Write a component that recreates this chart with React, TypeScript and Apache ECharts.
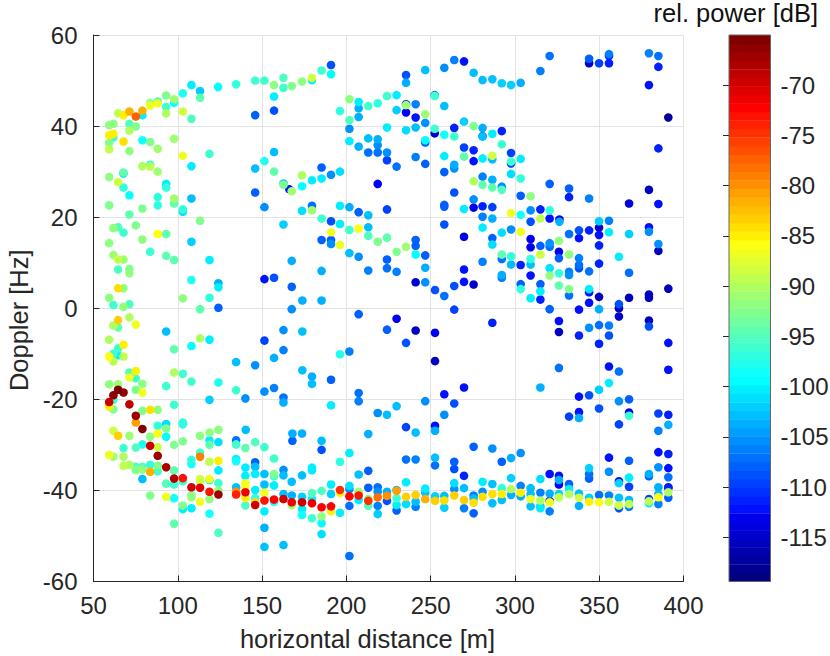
import React, { useEffect, useRef } from "react";
import * as echarts from "echarts";

type P = [number, number, number];

const xTicksMin = 50;
const xTicksMax = 400;
const yTicksMin = -60;
const yTicksMax = 60;
const powerMin = -119.4;
const powerMax = -65;
const colorbarTicks = [-115, -110, -105, -100, -95, -90, -85, -80, -75, -70];

const upperLeft: P[] = [
[59.3,40.2,-92],[61.8,40.5,-92],[64.6,42.8,-89],[67.8,42.4,-85],[71.3,43.2,-81.5],[75.1,42.1,-77.5],[79,42.4,-100],[79,43.4,-81.5],[83.6,45.1,-92],[83.6,44.5,-87],[88.1,45.4,-96],[88.1,45,-87],[93.1,46.7,-93],[93.1,44.2,-96],[93.1,42.8,-90],[97.8,45.9,-91],[97.8,45.1,-99],[103,47.2,-98],[103,43.2,-88],[108.1,49,-100],[108.1,41.6,-95],[113.2,47.7,-102],[113.2,46.2,-94],[123.9,48.6,-99.5],[134.6,49.2,-97],[145.9,50,-96],[145.9,42.4,-108],[151.4,50,-96],[157.1,49,-92],[157.1,46.5,-100],[157.1,43.4,-109],[162.7,50.6,-95],[162.7,48.4,-96],[167.6,48.8,-93],
[71.3,40.5,-95],[75.1,39.9,-93],[71.3,39,-90],[59.3,38,-85],[61.8,38.3,-85],[61.8,37.5,-96],[59.3,36.3,-93],[59.3,34.9,-89.5],[67.8,36.6,-84],[71.3,34.5,-92],[79,36.9,-99],[83.6,36.5,-93],[88.1,35,-91],[97.8,37.2,-91],[103,33.5,-87],[118.8,33.9,-96],[108.1,31.2,-100],[79,31.2,-90],[83.6,31.5,-97],[83.6,31.1,-89],[88.1,30,-91],[157.1,34.3,-103],[151.4,32.3,-98],[145.9,30.7,-103],[157.1,30,-94],[162.7,27.4,-102],[162.7,27.1,-93],[167.6,25.7,-91],[166.2,26.1,-112],
[59.3,28.8,-92],[67.8,29.6,-102],[67.8,29.8,-94],[64.6,27.7,-88],[67.8,26.5,-97],[71.3,24.8,-99.5],[93.1,27.3,-100],[93.1,26.5,-97],[88.1,24.4,-97],[97.8,24.1,-91],[97.8,23,-94],[108.1,24.1,-103],[145.9,25.4,-108],[59.3,22.6,-93],[79,21.9,-93],[88.1,22.6,-97],[103,21.2,-101.5],[103,21.7,-97],[71.3,20.6,-94],[113.2,19.2,-93],[151.4,22.2,-105],
];

const middleLeft: P[] = [
[61.8,17.6,-92],[64.6,17.8,-95],[67.8,16.6,-96],[75.1,18.2,-93],[88.1,16.3,-86],[93.1,16.3,-94],[108.1,14.6,-102],[162.7,18.4,-102],[79,15.1,-92],[59.3,14.3,-92],[83.6,12.4,-96],[61.8,11.7,-91],[64.6,10.7,-89],[67.8,10.7,-91],[93.1,11.5,-94],[97.8,10.6,-94],[118.8,10.6,-100],[167.6,10.4,-104],[64.6,8.5,-95],[71.3,8.6,-93],[71.3,7.7,-92],[108.1,6.2,-98],[124.1,5.5,-104],[124.1,4.6,-100],[151.4,6.4,-112],[157.1,6.7,-109],[167.6,4.7,-108],[64.6,4.4,-84.5],[67.8,4.4,-92],[59.3,2.3,-92],[61.8,0.7,-96],[67.8,0.3,-92],[71.3,0.9,-95],[103,2.2,-92],[118.8,2.3,-97],[113.2,-0.2,-94],[124.1,0.1,-108],[167.6,-0.2,-105],
[71.3,-2,-90],[64.6,-2.6,-83.5],[61.8,-3.8,-90],[64.6,-4.2,-94],[75.1,-3.6,-87],[93.1,-5.1,-103],[162.7,-4.8,-105],[59.3,-6.9,-90],[113.2,-6.6,-90],[118.8,-6.9,-100.5],[151.4,-7.1,-110],[67.8,-8,-85],[64.6,-8.8,-96],[108.1,-8.3,-99.5],[97.8,-9,-94],[162.7,-9.2,-106],[61.8,-10,-96],[64.6,-10.3,-100],[59.3,-10.6,-85.5],[67.8,-10.6,-89],[61.8,-11.7,-89],[157.1,-10.9,-104],[134.6,-11.8,-102.5],[145.9,-12.5,-105],[75.1,-13.8,-85],[71.3,-14.1,-95],[71.3,-15.2,-86.5],[75.1,-15.4,-96],[97.8,-14.1,-90],[103,-14.4,-96],[108.1,-16.1,-96],[124.1,-16.3,-98],[59.3,-16.7,-92],[64.6,-16.7,-91],[79,-16.6,-92],[93.1,-17.1,-96],[75.1,-17.9,-93],[79,-18.5,-86.5],[134.6,-18,-96],[151.4,-18.3,-105],[157.1,-17.5,-106],[64.6,-17.9,-65.5],[67.8,-18.5,-66],[61.8,-19.1,-66.5],[59.3,-20.6,-69.5],[71.3,-21.1,-68.5],[118.8,-20.1,-102],[140.1,-19.8,-105],[162.7,-19.6,-107],[162.7,-20.7,-104],[97.8,-21.2,-96],[61.8,-20.1,-96],
];

const lowerLeft: P[] = [
[59.3,-21.6,-85],[61.8,-22.2,-93],[79,-22.5,-93],[83.6,-22.3,-84.5],[88.1,-22.3,-92],[75.1,-23.6,-67.5],[75.1,-25.1,-81],[79,-26.5,-65.5],[88.1,-25.8,-97],[93.1,-25.4,-101],[93.1,-26.4,-93],[103,-25.1,-97],[103,-25.5,-97],[61.8,-26.9,-88],[64.6,-28,-83],[71.3,-28,-91],[83.6,-28.2,-92],[88.1,-27.5,-86],[93.1,-28.2,-99.5],[113.2,-28,-92],[118.8,-27.3,-92],[124.1,-26.7,-92],[140.3,-26.7,-103],[103,-29.2,-93],[97.8,-30,-93],[118.8,-29,-100],[118.8,-30,-94],[124.1,-29.4,-101],[134.6,-29,-107],[134.6,-29.9,-96],[145.9,-29.4,-95],[140.1,-30.7,-94],[151.4,-30.5,-96],[67.8,-30.7,-96],[75.1,-30.6,-95.5],[79,-29.9,-98],[83.6,-30.2,-70],[88.1,-30.5,-88],[113.2,-31.7,-96],[113.2,-32.6,-79],[88.1,-32.4,-67],[59.3,-32.2,-87],[61.8,-32.6,-91],[67.8,-32.6,-90],[108.1,-33.3,-97],[108.1,-34.2,-99],[118.8,-33.7,-89],[124.1,-33.5,-85],[134.6,-33.1,-100],[134.6,-33.6,-99],[157.1,-33,-96],[145.9,-33.8,-108],[145.9,-34.8,-103],[67.8,-34.6,-89],[71.3,-34.4,-90],[75.1,-34.8,-95],[75.1,-35.5,-93],[79,-34.8,-95],[79,-35.4,-92],[83.6,-34.4,-97],[83.6,-35.9,-82],[88.1,-34.6,-93],[88.1,-35.8,-96],[93.1,-34.9,-68],[97.8,-35.6,-94],[140.1,-35,-100],[124.1,-35.6,-100],[79,-37.5,-103],[93.1,-38.5,-95],[97.8,-37.4,-68],[97.8,-38.7,-96],[103,-37.3,-73],[103,-38,-96],[108.1,-39.3,-70],[108.1,-41,-92],[108.1,-41.5,-92],[113.2,-39.4,-70.5],[113.2,-37.5,-88],[113.2,-38,-88],[113.2,-42.5,-87],[118.8,-37.5,-87],[118.8,-37.7,-100],[118.8,-40.3,-73],[118.8,-41.9,-92],[124.1,-38.4,-96],[124.1,-40,-92],[124.1,-40.9,-67],[134.6,-39.3,-103],[134.6,-40.3,-80],[134.6,-40.9,-74],[140.1,-36.8,-100],[140.1,-38.4,-87],[140.1,-39.3,-86],[140.1,-40.4,-71],[140.1,-41.6,-85],[140.1,-43.3,-95],[145.9,-36.4,-100],[145.9,-39.9,-100],[145.9,-41.7,-97],[145.9,-42.6,-84],[145.9,-43.2,-69.5],[151.4,-36.4,-103],[157.1,-36.9,-96],[157.1,-36.4,-93],[151.4,-38.7,-102.5],[157.1,-38.9,-100],[162.7,-35.5,-105],[162.7,-36.7,-103],[167.6,-38.1,-103],[151.4,-40.5,-87],[162.7,-40.8,-103],[167.6,-41.1,-104],[151.4,-42.2,-73],[157.1,-42,-72],[157.1,-42.5,-98],[162.7,-41.9,-70],[167.6,-42.6,-71],[167.6,-43.2,-91],[103,-43.3,-93],[103,-44.1,-100],[108.1,-43.9,-100.5],[118.8,-45.1,-99],[151.4,-44.6,-100.5],[83.6,-41.1,-93],[93.1,-41.4,-87],[97.8,-41.7,-99],[97.8,-47.3,-94],[124.1,-49.3,-95],[151.4,-48.2,-104],[151.4,-52.4,-102.5],[162.7,-52,-103],
];

const upperMiddle: P[] = [
[173.7,49.8,-92],[179.6,50.1,-100],[179.6,50.6,-88],[185.3,52.2,-96],[190.9,53.4,-109],[190.9,51.4,-99.5],[196.2,43.3,-97],[201.8,45.9,-92],[201.8,41.3,-95],[207.3,45.3,-100],[207.3,43.9,-104],[207.3,42,-104],[213,44.4,-96],[218.6,45,-97],[224.1,46.6,-96],[229.8,46.8,-100],[229.8,43.5,-102],[235.4,51.2,-109],[235.4,49.5,-104],[235.4,44.8,-112],[235.4,44.6,-91],[235.4,43,-113],[241.1,44.8,-106],[241.1,41.9,-112],[246.8,52.3,-103],[246.8,42.6,-91],[246.8,40.7,-105],[252.4,46.8,-107],[252.4,46.6,-96],[258.1,52.8,-105],[258.1,44.4,-103],[264,54.5,-106],[269.8,54.2,-112],[275.5,51.7,-102.5],[280.8,50.1,-102.5],
[201.8,39.4,-105],[224.1,39.7,-100.5],[235.4,39.1,-101],[241.1,39.7,-102.5],[246.8,36.9,-99.5],[246.8,36.4,-108],[252.4,39.4,-96],[252.4,38.4,-115],[258.1,38.1,-99],[264,39.6,-111],[264,37.7,-96],[269.8,41,-102],[275.5,40,-93],[280.8,39.6,-104],[280.8,37.8,-110],[280.8,37.7,-103],[201.8,36.7,-100],[207.3,35.5,-104],[213,37.3,-103],[213,34.2,-107],[218.6,37.1,-104],[218.6,35.8,-105],[218.6,34.2,-107],[224.1,34.2,-105],[224.1,32.5,-110],[229.8,31.1,-107],[241.1,33.2,-106],[246.8,31.7,-108],[258.1,33.4,-100],[258.1,29.9,-108],[264,31.5,-104],[264,30.7,-105],[269.8,35.3,-110],[269.8,33.3,-94],[275.5,34.7,-111],[275.5,32.3,-112],[280.8,32.9,-100],[280.8,28.9,-106],[280.8,27.1,-94],[275.5,27.9,-90],[264,25.4,-109],[275.5,23.9,-105],[280.8,22.4,-111],[275.5,22.1,-113],[269.8,21.8,-100.5],[258.1,22.7,-108],[258.1,22.3,-108],[280.8,20.1,-106],[185.3,30.9,-108],[190.9,29.3,-105],[196.2,30,-101],[173.7,29.2,-90],[185.3,28.5,-100],[179.6,28.1,-100.5],[173.7,26.8,-99.5],[218.6,27.3,-113],[173.7,21.4,-101],[179.6,22.5,-107],[179.6,21.5,-91],[196.2,22.5,-100.5],[201.8,22.2,-104],[207.3,21.1,-108],[213,20.4,-102.5],[224.1,21.7,-110],[185.3,19.7,-96],[190.9,19.1,-109],
];

const centerMiddle: P[] = [
[196.2,18.5,-100],[190.9,16.7,-87],[201.8,17.2,-96],[207.3,17.5,-86],[213,17.8,-103],[185.3,15,-108],[190.9,15,-108],[190.9,14.1,-105],[196.2,13.9,-87],[213,15.9,-95],[218.6,14.6,-93],[224.1,15.5,-94],[229.8,12.4,-93],[235.4,13.5,-91],[241.1,15,-108],[241.1,13.7,-108],[258.1,18.4,-109],[269.8,15.7,-113],[280.8,17.7,-100.5],[201.8,12.1,-103],[207.3,11.3,-105],[224.1,10.7,-108],[241.1,11.8,-99.5],[246.8,11.6,-108],[185.3,8.2,-103.5],[213,8.3,-106],[224.1,8.8,-107],[229.8,8,-106],[246.8,8.9,-104],[269.8,8.5,-112],[280.8,10.2,-106],[241.1,5.7,-115],[246.8,5.7,-105],[252.6,4,-109],[258.1,2.7,-107],[264,4.9,-109],[269.8,5.8,-112],[275.5,5.2,-115],[173.9,1.7,-104],[185.3,1.7,-103.5],[207.3,-1.3,-108],[264,-0.3,-110],[229.8,-2.3,-113],[224.1,-4.7,-108],[241.1,-4.9,-116],[252.6,-5.4,-113],[173.9,-5.1,-103],[235.4,-7.6,-109],[196.2,-10.1,-98],[201.8,-9.5,-106],[252.6,-11.6,-116],[173.9,-13.6,-103],[179.6,-15,-104],[179.6,-16.6,-102.5],[190.9,-15.7,-108],[207.3,-18.6,-107],[207.3,-20.4,-106],[258.1,-18.9,-112],[269.8,-17.4,-112],[264,-20.9,-109],[246.8,-20.4,-105],[229.8,-21.5,-103],[190.9,-21.3,-100],
];

const lowerMiddle: P[] = [
[218.6,-23,-105],[224.1,-23.4,-103],[258.1,-23.4,-105],[235.4,-26.1,-110],[241.1,-27.3,-103],[252.6,-25.8,-112],[252.6,-26.9,-104],[213,-27.6,-104],[168,-27.5,-104],[168,-29.1,-108],[173.7,-27.5,-104],[185.3,-29.1,-103],[185.3,-31.1,-109],[201.8,-31.8,-100.5],[196.2,-33.7,-97],[275.5,-30.4,-108],[235.4,-33.2,-107],[241.1,-33.2,-106],[252.6,-32.8,-103],[252.6,-34.5,-107],[264,-33.7,-108],[264,-35.3,-109],[213,-35.7,-108],[207.3,-36.5,-103],[179.6,-35,-100],[179.6,-35.6,-100.5],[173.7,-36.7,-103],[269.8,-36.8,-111],[280.8,-38.1,-100],[264,-38.4,-101],[235.4,-38.2,-100],[190.9,-38.7,-100.5],[201.8,-39,-101],[246.8,-39.6,-100],[269.8,-39.5,-103],[264,-39.7,-105],[213,-39.4,-108],[218.6,-39.3,-107],[218.6,-40.3,-105],[224.1,-40.3,-104],[229.8,-39.9,-104],[229.8,-40.1,-81],[196.2,-39.9,-75],[196.2,-40.5,-85],[201.8,-39.7,-105],[201.8,-41.3,-72],[207.3,-40.3,-91],[207.3,-41.1,-73],[207.3,-42.1,-100],[213,-42.3,-75],[213,-41.9,-93],[213,-43.4,-95],[218.6,-41.5,-78],[218.6,-43.4,-106],[218.6,-45.2,-102],[224.1,-41.2,-80],[224.1,-42.3,-109],[229.8,-41.7,-96],[229.8,-43.2,-100],[229.8,-44.4,-108],[235.4,-41.4,-83],[235.4,-43,-101],[241.1,-41,-83],[241.1,-42.5,-103],[241.1,-43.6,-106],[246.8,-41.9,-82],[246.8,-40.5,-103],[252.6,-41.3,-102],[252.6,-42.3,-83],[258.1,-41.2,-103],[258.1,-42.2,-84],[258.1,-43.8,-102],[264,-41.1,-83],[269.8,-42.1,-83.5],[269.8,-43.9,-106],[275.5,-41.1,-106],[275.5,-41.8,-103],[275.5,-42.7,-84],[275.5,-45,-108],[280.8,-41.4,-84.5],[280.8,-40.3,-105],[173.7,-41.4,-102],[173.7,-42.6,-70],[173.7,-44.1,-100],[173.7,-45.4,-99],[179.6,-40.6,-95],[179.6,-41.9,-100],[179.6,-42.8,-71],[179.6,-46.1,-96],[185.3,-40.1,-95],[185.3,-43.7,-72],[185.3,-45.7,-92],[185.3,-47.2,-99.5],[185.3,-49.6,-101],[190.9,-40.8,-102],[190.9,-43.5,-72],[190.9,-44.6,-85],[196.2,-44.9,-100],[201.8,-43.4,-107],[201.8,-54.4,-107],
];

const upperRight: P[] = [
[286.6,50.3,-103],[292.2,49.4,-102],[297.7,49,-102],[303.4,49.5,-104],[315.1,52.1,-106],[320.6,55.4,-107],[344,54.8,-108],[344,53.8,-115],[349.9,53.8,-110],[355.8,55.8,-106],[355.8,55.4,-111],[355.8,53.8,-111],[379.5,56,-106],[385.1,55.4,-107],[385.1,53,-111],[379.5,49,-112],[391,41.9,-117],[385.1,35.1,-111],[286.6,38.3,-100],[292.2,38.9,-111],[292.2,36,-96],[297.7,34.1,-110],[297.7,31.8,-110],[297.7,32.2,-96],[303.4,32.8,-100],[286.6,32.7,-103],[286.6,33.5,-88],[297.7,29.5,-101],[303.4,28.5,-97],[286.6,28.2,-104],[286.6,26.5,-94],[292.2,26.7,-105],[292.2,26,-95],[320.6,27.3,-108],[332.1,26.3,-108],[332.1,24.4,-111],[303.4,24.7,-108],[309.3,24.6,-92],[344,24.1,-106],[379.5,26,-116],[367.7,23,-114],[385.1,22.9,-112],[286.6,22.2,-110],[297.7,20.9,-87],[303.4,20.5,-99],[309.3,21.5,-105],[315.1,21.7,-111],[320.6,21.5,-97],[286.6,19.7,-104],
];

const centerRight: P[] = [
[309.3,19,-109],[315.1,19.7,-89],[320.6,19.7,-112],[326.4,19.5,-113],[326.4,19,-104],[349.9,19.1,-102],[355.8,19.2,-106],[349.9,17.7,-115],[349.9,16.1,-112],[355.8,16.7,-100],[367.7,16.3,-102],[379.5,17.8,-112],[379.5,16.8,-105],[338,17.1,-109],[344,17.1,-111],[332.1,16.3,-107],[338,15.4,-112],[326.1,14.8,-92],[309.3,15.2,-113],[309.3,13.4,-113],[315.1,13.7,-108],[320.6,14.3,-105],[320.6,13.5,-107],[349.9,13.8,-111],[385.1,14.1,-105],[385.1,12.6,-116],[326.1,12.4,-113],[326.1,11,-108],[332.1,11.8,-92],[315.1,11.8,-88],[292.2,11.8,-94],[292.2,10.8,-107],[297.7,11.4,-97],[297.7,9.6,-103],[303.4,9.5,-111],[309.3,10.8,-97],[309.3,9.6,-103],[338,11,-106],[338,9.5,-107],[338,8.8,-109],[349.9,9.8,-111],[361.7,11.3,-100],[320.6,8.8,-101],[320.6,7.2,-92],[326.1,7.7,-97],[332.1,8,-106],[332.1,7.3,-105],[344,8.1,-107],[367.7,7.8,-107],[309.3,7.2,-112],[292.2,7.3,-104],[292.2,6.7,-106],[292.2,16.6,-101],[297.7,17.3,-105],[303.4,16.8,-87],[286.6,15.4,-108],[286.6,14,-101],[303.4,5.3,-108],[303.4,4.2,-97],[315.1,5.3,-108],[315.1,3.7,-100],[326.1,5,-94.5],[332.1,4.2,-93],[332.1,2.8,-107],[344,4.2,-100],[344,3.5,-112],[349.9,2.5,-116],[367.7,2.3,-116],[379.5,3,-116],[379.5,2.3,-116],[391,4.3,-116],[309.3,2.2,-100],[315.1,1.9,-111],[344,1.2,-112],[361.7,0.9,-109],[361.7,0,-116],[361.7,-1.8,-115],[320.6,-0.2,-108],[338,-0.3,-112],[349.9,-0.2,-104],[286.6,-3.2,-111],[326.1,-2.8,-112],[326.1,-5.2,-116],[344,-4.3,-105],[349.9,-3.7,-107],[355.8,-3.8,-106],[379.5,-2.7,-116],[379.5,-4,-109],[338,-6,-111],[355.8,-6,-109],[349.9,-7.8,-111],[391,-7.6,-112],[326.1,-13.1,-107],[355.8,-12.8,-112],[361.7,-13.9,-107],[391,-13.5,-112],[315.1,-17.4,-104],[355.8,-16.4,-100],[349.9,-17.9,-102],[344,-19.1,-109],[338,-19.4,-112],[361.7,-20.4,-105],[367.7,-20,-108],
];

const lowerRight: P[] = [
[338,-22.8,-112],[338,-24.1,-104],[332.1,-23.8,-110],[349.9,-22,-109],[361.7,-25.5,-110],[367.7,-22.9,-113],[367.7,-23.6,-96],[385.1,-23.1,-110],[391,-23.4,-111],[391,-25.6,-104],[385.1,-26.9,-106],[286.6,-30.8,-105],[292.2,-33.7,-108],[297.7,-32.9,-104],[303.4,-31.8,-105],[355.8,-32.8,-112],[367.7,-33.5,-108],[385.1,-31.6,-112],[391,-32,-111],[385.1,-34.9,-105],[391,-35.1,-112],[391,-37.1,-107],[379.5,-36.4,-104],[379.5,-36.9,-108],[355.8,-35.9,-105],[344,-35.1,-102],[344,-36.4,-107],[344,-37.4,-108],[320.6,-36.4,-112],[326.1,-36.8,-112],[326.1,-37.7,-104],[326.1,-38.7,-113],[332.1,-38.6,-108],[286.6,-38.6,-103],[297.7,-37.3,-102],[315.1,-37.5,-101],[361.7,-38,-113],[361.7,-38.4,-102],[367.7,-37.2,-100],[367.7,-39.2,-110],[385.1,-39.3,-104],[391,-39.3,-113],[286.6,-40.8,-84],[292.2,-39.5,-97],[292.2,-40.8,-85],[297.7,-39.7,-90],[297.7,-41,-104],[303.4,-39,-106],[303.4,-40.5,-85],[303.4,-41.3,-104],[309.3,-39.5,-103],[309.3,-40.8,-103],[309.3,-41.9,-87],[292.2,-42.1,-103],[286.6,-42.8,-103],[309.3,-43.5,-103],[315.1,-40.5,-106],[315.1,-42.2,-90],[315.1,-43.5,-102],[315.1,-43.9,-100],[320.6,-40.7,-104],[320.6,-42.6,-87],[320.6,-42.3,-114],[320.6,-44.6,-106],[326.1,-40.8,-102],[326.1,-41.5,-89],[332.1,-39.7,-100],[332.1,-40.8,-90],[338,-40.7,-103],[338,-41.6,-88],[338,-43.4,-104],[344,-41.6,-102],[344,-42.5,-85],[349.9,-41,-107],[349.9,-42.6,-86],[355.8,-41.1,-106],[355.8,-42.5,-88],[361.7,-41.6,-103],[361.7,-43.3,-88],[361.7,-43.9,-109],[367.7,-42.1,-103],[367.7,-43,-89],[367.7,-43.6,-106],[379.5,-41.9,-110],[379.5,-42.4,-89],[379.5,-42.8,-100],[385.1,-41.5,-85.5],[385.1,-40.8,-103],[385.1,-43,-106],[391,-40.4,-90],[391,-41.6,-108],[391,-39.5,-111],
];

const allPoints: P[] = [
  ...upperLeft, ...middleLeft, ...lowerLeft,
  ...upperMiddle, ...centerMiddle, ...lowerMiddle,
  ...upperRight, ...centerRight, ...lowerRight,
].sort((a, b) => a[2] - b[2]);

const LEVELS = 64;
const jetU = (k: number) =>
  k < 1 || k > 47 ? 0 : k <= 16 ? k / 16 : k <= 31 ? 1 : (48 - k) / 16;
const jet = (i: number) => {
  const c = (v: number) => Math.round(v * 255);
  return `rgb(${c(jetU(i - 24))},${c(jetU(i - 8))},${c(jetU(i + 7))})`;
};
const powerColor = (p: number) => {
  const i = Math.floor(((p - powerMin) / (powerMax - powerMin)) * LEVELS) + 1;
  return jet(Math.max(1, Math.min(LEVELS, i)));
};
const bands = Array.from({ length: LEVELS }, (_, i) => [i]);

const INK = "#262626";
const GRIDLINE = "#e3e3e3";
const FONT = '"Liberation Sans", Arial, sans-serif';

export default function App() {
  const ref = useRef<HTMLDivElement>(null);
  useEffect(() => {
    const chart = echarts.init(ref.current!, undefined, { renderer: "svg" });
    chart.setOption({
      animation: false,
      backgroundColor: "#fff",
      textStyle: { fontFamily: FONT },
      title: {
        text: "rel. power [dB]",
        right: 12,
        top: 0,
        padding: 0,
        textStyle: { fontFamily: FONT, fontSize: 25.5, fontWeight: "normal", color: "#111" },
      },
      grid: [
        { left: 93.5, top: 35, width: 590, height: 546.5, outerBoundsMode: "none" },
        { left: 729, top: 35, width: 41.5, height: 546.5, outerBoundsMode: "none" },
      ],
      xAxis: [
        {
          type: "value",
          gridIndex: 0,
          min: xTicksMin,
          max: xTicksMax,
          interval: 50,
          name: "horizontal distance [m]",
          nameLocation: "middle",
          nameGap: 44,
          nameTextStyle: { fontSize: 25.5, color: INK, fontFamily: FONT, padding: [0, 42, 0, 0] },
          axisLine: { show: true, onZero: false, lineStyle: { color: INK, width: 1 } },
          axisTick: { show: true, inside: true, length: 6, lineStyle: { color: INK } },
          axisLabel: { fontSize: 24, color: INK, margin: 12, fontFamily: FONT },
          splitLine: { show: true, lineStyle: { color: GRIDLINE, width: 1 } },
        },
        { type: "value", gridIndex: 1, min: 0, max: 1, show: false },
      ],
      yAxis: [
        {
          type: "value",
          gridIndex: 0,
          min: yTicksMin,
          max: yTicksMax,
          interval: 20,
          name: "Doppler [Hz]",
          nameLocation: "middle",
          nameGap: 60,
          nameTextStyle: { fontSize: 25.5, color: INK, fontFamily: FONT, padding: [0, 24, 0, 0] },
          axisLine: { show: true, onZero: false, lineStyle: { color: INK, width: 1 } },
          axisTick: { show: true, inside: true, length: 6, lineStyle: { color: INK } },
          axisLabel: { fontSize: 24, color: INK, margin: 16, fontFamily: FONT },
          splitLine: { show: true, lineStyle: { color: GRIDLINE, width: 1 } },
        },
        {
          type: "value",
          gridIndex: 1,
          position: "right",
          min: powerMin,
          max: powerMax,
          axisLine: { show: false },
          axisTick: {
            show: true,
            inside: true,
            length: 6,
            lineStyle: { color: INK },
            customValues: colorbarTicks,
          },
          axisLabel: {
            fontSize: 24,
            color: INK,
            margin: 10,
            fontFamily: FONT,
            customValues: colorbarTicks,
          },
          splitLine: { show: false },
          z: 5,
        },
      ],
      graphic: [
        {
          type: "rect",
          z: 20,
          shape: { x: 729, y: 35, width: 41.5, height: 546.5 },
          style: { fill: "transparent", stroke: "#666", lineWidth: 1 },
        },
      ],
      series: [
        {
          type: "scatter",
          xAxisIndex: 0,
          yAxisIndex: 0,
          data: allPoints,
          symbol: "circle",
          symbolSize: 8.6,
          itemStyle: {
            opacity: 1,
            color: (params: any) => powerColor(params.value[2]),
          },
          emphasis: { disabled: true },
          z: 3,
        },
        {
          type: "custom",
          xAxisIndex: 1,
          yAxisIndex: 1,
          data: bands,
          silent: true,
          z: 2,
          renderItem: (_p: any, api: any) => {
            const i = api.value(0);
            const step = (powerMax - powerMin) / LEVELS;
            const a = api.coord([0, powerMin + i * step]);
            const b = api.coord([1, powerMin + (i + 1) * step]);
            return {
              type: "rect",
              shape: { x: a[0], y: b[1], width: b[0] - a[0], height: a[1] - b[1] + 0.4 },
              style: { fill: jet(i + 1), stroke: null },
            };
          },
        },
      ],
    });
    return () => chart.dispose();
  }, []);
  return (
    <div
      ref={ref}
      style={{ position: "absolute", left: 0, top: 0, width: 830, height: 656 }}
    />
  );
}
